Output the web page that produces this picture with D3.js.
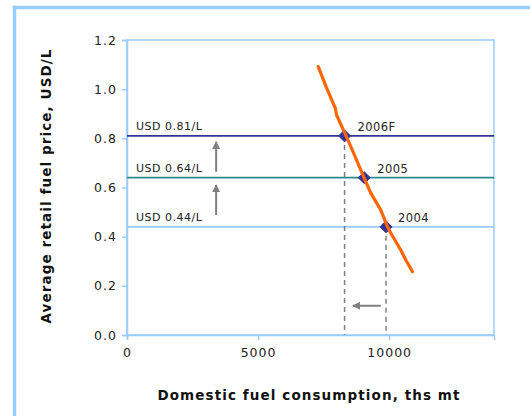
<!DOCTYPE html>
<html>
<head>
<meta charset="utf-8">
<script src="https://cdn.jsdelivr.net/npm/d3@7"></script>
<style>
  html, body { margin: 0; padding: 0; background: #fff; overflow: hidden; }
  svg { display: block; }
</style>
</head>
<body>
<svg id="chart" width="530" height="416"></svg>
<script>
// Demand curve: domestic fuel consumption (ths mt) vs retail price (USD/L)
const curveConsumption = [7295, 7613, 7946, 7995, 8340, 8646, 9028, 9296, 9679, 9935, 10061, 10444, 10635, 10891];
const curvePrice       = [1.092, 1.005, 0.923, 0.895, 0.814, 0.740, 0.643, 0.578, 0.509, 0.441, 0.415, 0.346, 0.305, 0.258];

// Yearly observations on the curve
const years           = ["2004", "2005", "2006F"];
const yearConsumption = [9880, 9050, 8300];
const yearPrice       = [0.44, 0.64, 0.81];
const priceLabels     = ["USD 0.44/L", "USD 0.64/L", "USD 0.81/L"];
const priceColors     = ["#99ccff", "#2a8a8a", "#333399"];

// Axis ticks
const xTicks = [0, 5000, 10000];
const yTicks = [0, 0.2, 0.4, 0.6, 0.8, 1.0, 1.2];

// Shift arrows: start and end points in data units
const arrowFrom = [[3400, 0.664], [3400, 0.488], [9680, 0.119]];
const arrowTo   = [[3400, 0.786], [3400, 0.610], [8620, 0.119]];

const svg = d3.select("#chart");
const font = "'DejaVu Sans', Verdana, sans-serif";

// Outer frame (top and left edges fall inside the page)
svg.append("line").attr("x1", 12.75).attr("x2", 530).attr("y1", 7.5).attr("y2", 7.5)
  .attr("stroke", "#99ccff").attr("stroke-width", 3.5);
svg.append("line").attr("x1", 14.5).attr("x2", 14.5).attr("y1", 5.75).attr("y2", 416)
  .attr("stroke", "#99ccff").attr("stroke-width", 3.5);

const x = d3.scaleLinear().domain([0, 14000]).range([127, 494]);
const y = d3.scaleLinear().domain([0, 1.2]).range([335, 40]);

// Plot area border
svg.append("rect")
  .attr("x", x(0)).attr("y", y(1.2))
  .attr("width", x(14000) - x(0)).attr("height", y(0) - y(1.2))
  .attr("fill", "none").attr("stroke", "#99ccff").attr("stroke-width", 1.5);

// Y axis
const yAxis = svg.append("g").attr("transform", `translate(${x(0)},0)`)
  .call(d3.axisLeft(y).tickValues(yTicks).tickFormat(d3.format(".1f")).tickSize(5).tickPadding(5));
yAxis.select(".domain").attr("stroke", "#99ccff").attr("stroke-width", 1.5);
yAxis.selectAll(".tick line").attr("stroke", "#99ccff").attr("stroke-width", 1.5);
yAxis.selectAll("text").attr("font-family", font).attr("font-size", 12.5)
  .attr("letter-spacing", 1).attr("fill", "#222");

// X axis
const xAxis = svg.append("g").attr("transform", `translate(0,${y(0)})`)
  .call(d3.axisBottom(x).tickValues(xTicks).tickFormat(d3.format("d")).tickSize(5).tickPadding(8));
xAxis.select(".domain").attr("stroke", "#99ccff").attr("stroke-width", 1.5);
xAxis.selectAll(".tick line").attr("stroke", "#99ccff").attr("stroke-width", 1.5);
xAxis.selectAll("text").attr("font-family", font).attr("font-size", 12.5)
  .attr("letter-spacing", 1).attr("fill", "#222");

// Price level lines
svg.selectAll(".price-line").data(yearPrice).join("line")
  .attr("x1", x(0)).attr("x2", x(14000))
  .attr("y1", d => y(d)).attr("y2", d => y(d))
  .attr("stroke", (d, i) => priceColors[i]).attr("stroke-width", 1.8);

svg.selectAll(".price-label").data(yearPrice).join("text")
  .attr("x", x(0) + 9).attr("y", d => y(d) - 6)
  .attr("font-family", font).attr("font-size", 11).attr("letter-spacing", 0.5).attr("fill", "#222")
  .text((d, i) => priceLabels[i]);

// Dashed drop lines for 2006F and 2004
[0, 2].forEach(i => {
  svg.append("line")
    .attr("x1", x(yearConsumption[i])).attr("x2", x(yearConsumption[i]))
    .attr("y1", y(yearPrice[i])).attr("y2", y(0))
    .attr("stroke", "#808080").attr("stroke-width", 1.5)
    .attr("stroke-dasharray", "5,4");
});

// Arrows
const defs = svg.append("defs");
defs.append("marker").attr("id", "ah")
  .attr("viewBox", "0 0 10 10").attr("refX", 9).attr("refY", 5)
  .attr("markerWidth", 4).attr("markerHeight", 4).attr("orient", "auto")
  .append("path").attr("d", "M0,0 L10,5 L0,10 Z").attr("fill", "#808080");
arrowFrom.forEach((p, i) => {
  svg.append("line")
    .attr("x1", x(p[0])).attr("y1", y(p[1]))
    .attr("x2", x(arrowTo[i][0])).attr("y2", y(arrowTo[i][1]))
    .attr("stroke", "#808080").attr("stroke-width", 2)
    .attr("marker-end", "url(#ah)");
});

// Year markers (diamonds)
svg.selectAll(".marker").data(years).join("path")
  .attr("transform", (d, i) => `translate(${x(yearConsumption[i])},${y(yearPrice[i])})`)
  .attr("d", "M0,-6 L6,0 L0,6 L-6,0 Z")
  .attr("fill", "#333399").attr("stroke", "#333399").attr("stroke-width", 1);

// Demand curve
const pts = curveConsumption.map((c, i) => [c, curvePrice[i]]);
svg.append("path")
  .datum(pts)
  .attr("d", d3.line().x(d => x(d[0])).y(d => y(d[1])))
  .attr("fill", "none").attr("stroke", "#ff6600").attr("stroke-width", 3.2)
  .attr("stroke-linejoin", "round").attr("stroke-linecap", "round");

// Year labels
const yearLabelDx = [12, 13, 13];
svg.selectAll(".year-label").data(years).join("text")
  .attr("x", (d, i) => x(yearConsumption[i]) + yearLabelDx[i])
  .attr("y", (d, i) => y(yearPrice[i]) - 5)
  .attr("font-family", font).attr("font-size", 11.5).attr("letter-spacing", 0.4).attr("fill", "#222")
  .text(d => d);

// Axis titles
svg.append("text")
  .attr("x", 309).attr("y", 400).attr("text-anchor", "middle")
  .attr("font-family", font).attr("font-size", 13.5).attr("font-weight", "bold")
  .attr("letter-spacing", 1.1).attr("fill", "#111")
  .text("Domestic fuel consumption, ths mt");

svg.append("text")
  .attr("transform", "translate(51,186) rotate(-90)").attr("text-anchor", "middle")
  .attr("font-family", font).attr("font-size", 13.5).attr("font-weight", "bold")
  .attr("letter-spacing", 1.1).attr("fill", "#111")
  .text("Average retail fuel price, USD/L");
</script>
</body>
</html>
